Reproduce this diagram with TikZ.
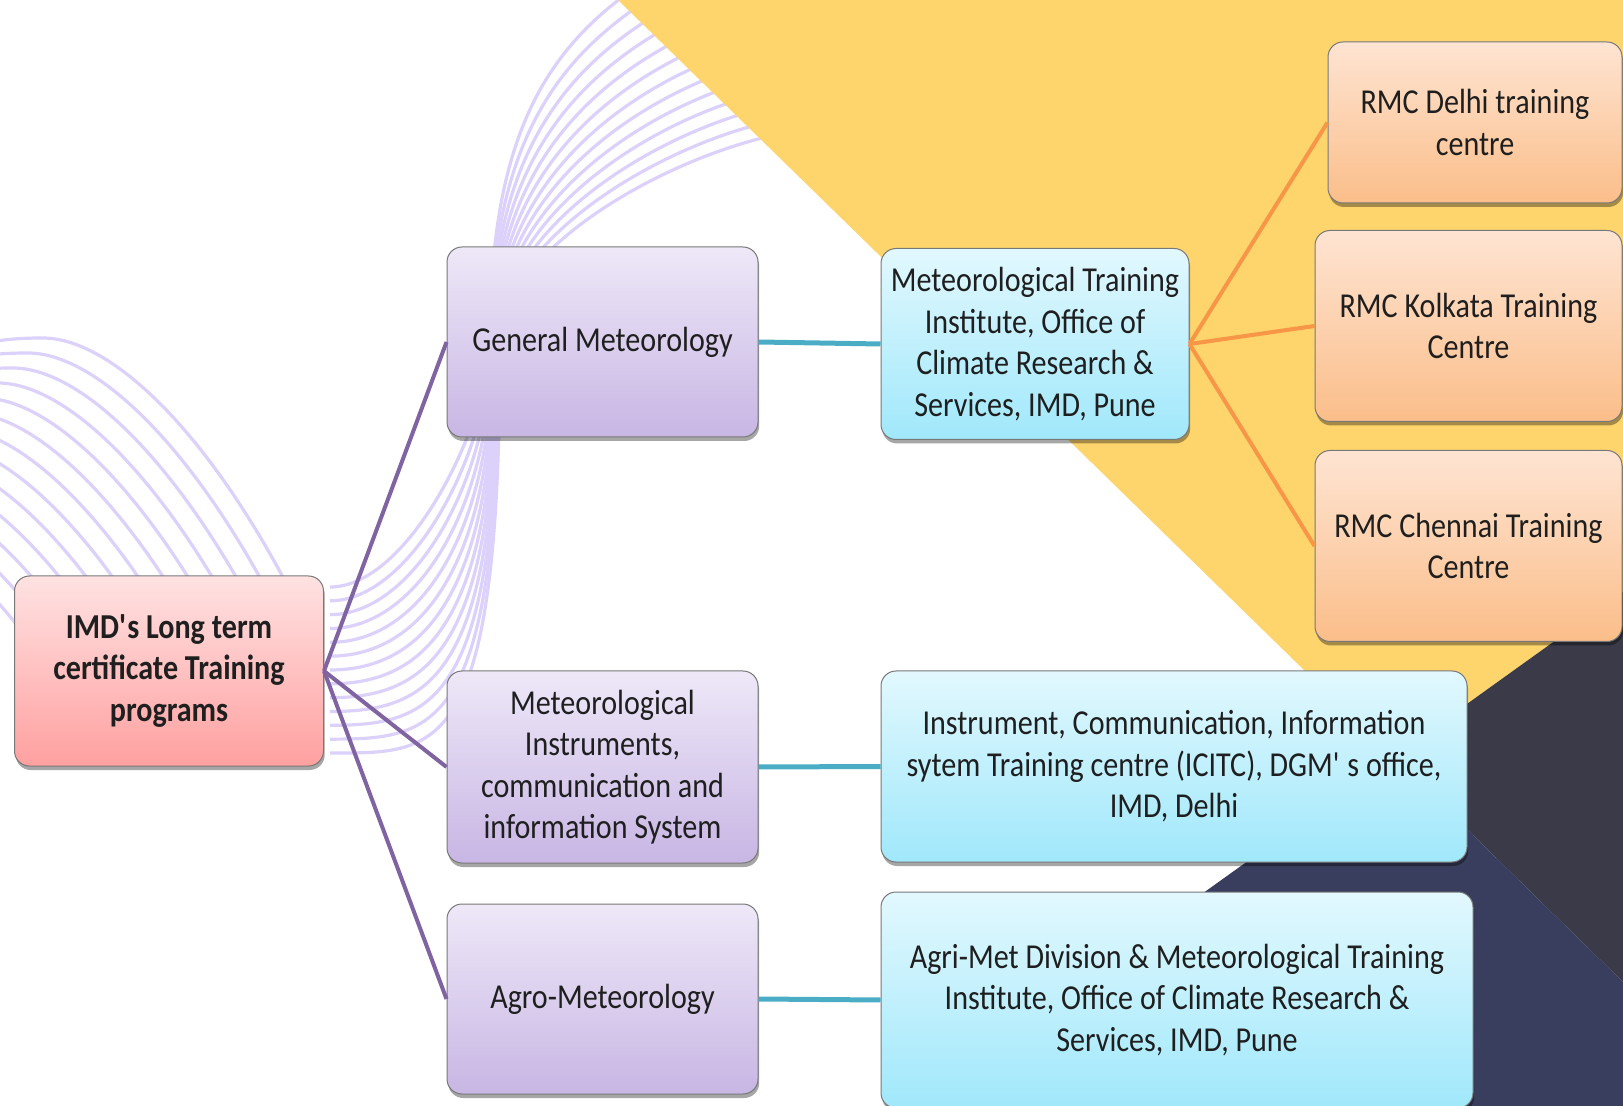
\documentclass[tikz,border=0pt]{standalone}
\usepackage{fontspec}
\setmainfont[FakeStretch=0.86]{Carlito}
\usetikzlibrary{shadows}

\definecolor{bgyellow}{RGB}{253,213,108}
\definecolor{bgcharcoal}{RGB}{58,58,72}
\definecolor{bgnavy}{RGB}{57,62,94}
\definecolor{wavelilac}{RGB}{220,209,250}
\definecolor{linkpurple}{RGB}{128,100,162}
\definecolor{linkblue}{RGB}{75,172,198}
\definecolor{linkorange}{RGB}{247,150,70}
\definecolor{boxline}{RGB}{120,120,120}
\definecolor{rootTop}{RGB}{255,226,226}
\definecolor{rootBot}{RGB}{255,160,160}
\definecolor{progTop}{RGB}{238,232,248}
\definecolor{progBot}{RGB}{200,182,228}
\definecolor{instTop}{RGB}{226,248,254}
\definecolor{instBot}{RGB}{160,232,251}
\definecolor{rmcTop}{RGB}{254,228,210}
\definecolor{rmcBot}{RGB}{251,190,138}

\tikzset{
  box/.style={draw=boxline, line width=0.5pt, rounded corners=7.5pt, align=center, inner sep=3pt,
    text=black!88, font=\fontsize{17.5}{20.7}\selectfont,
    drop shadow={shadow xshift=0.6pt, shadow yshift=-2pt, opacity=0.35, fill=black}},
  rootbox/.style={box, top color=rootTop, bottom color=rootBot, minimum width=154.5pt, minimum height=95pt,
    font=\fontsize{17.5}{20.7}\selectfont\bfseries},
  progbox/.style={box, top color=progTop, bottom color=progBot, minimum width=155.5pt, minimum height=95pt},
  instbox/.style={box, top color=instTop, bottom color=instBot, minimum height=95.5pt},
  rmcbox/.style={box, top color=rmcTop, bottom color=rmcBot, minimum width=153.5pt, minimum height=95.5pt},
  waveline/.style={draw=wavelilac, line width=1.6pt},
  purplelink/.style={draw=linkpurple, line width=2pt},
  bluelink/.style={draw=linkblue, line width=2.5pt},
  orangelink/.style={draw=linkorange, line width=2pt}
}

\begin{document}
\begin{tikzpicture}[x=0.5pt, y=-0.5pt]

	\useasboundingbox (0,0) rectangle (1623,1106);
	\clip (0,0) rectangle (1623,1106);

	% waves, upper bundle
	\foreach \i in {0,...,12}{
		\pgfmathsetmacro{\t}{\i/12}
		\pgfmathsetmacro{\sx}{625+150*\t}
		\pgfmathsetmacro{\sy}{-5+140*\t}
		\pgfmathsetmacro{\ax}{545+115*\t}
		\pgfmathsetmacro{\ay}{55+105*\t}
		\pgfmathsetmacro{\bx}{490+15*\t}
		\pgfmathsetmacro{\by}{140+110*\t}
		\pgfmathsetmacro{\mx}{490+10*\t}
		\pgfmathsetmacro{\cy}{420+340*\t}
		\pgfmathsetmacro{\dx}{410+30*\t}
		\pgfmathsetmacro{\ey}{587+166*\t}
		\draw[waveline] (\sx,\sy) .. controls (\ax,\ay) and (\bx,\by) .. (\mx,340)
			.. controls (\mx,\cy) and (\dx,\ey) .. (330,\ey);
	}

	% waves, left bundle
	\begin{scope}
		\clip (0,0) rectangle (1623,640);
		\foreach \i in {0,...,12}{
			\draw[waveline, shift={(-15*\i,15*\i)}] (-40,350) .. controls (-10,340) and (15,338) .. (43,338)
				.. controls (110,338) and (210,430) .. (300,610);
		}
	\end{scope}

	% backdrop
	\fill[bgyellow] (618,0) -- (1623,0) -- (1623,592) -- (1393,757) -- cycle;
	\fill[bgcharcoal] (1393,757) -- (1623,592) -- (1623,982) -- cycle;
	\fill[bgnavy] (1393,757) -- (1623,982) -- (1623,1106) -- (906,1106) -- cycle;

	% root
	\node[rootbox] (root) at (169,671) {IMD\textquotesingle s Long term\\certificate Training\\programs};

	% programmes
	\node[progbox] (gm) at (602.5,342) {General Meteorology};
	\node[progbox, minimum height=96pt] (mi) at (602.5,767) {Meteorological\\Instruments,\\communication and\\information System};
	\node[progbox] (agro) at (602.5,999) {Agro-Meteorology};

	% institutes
	\node[instbox, minimum width=154pt] (mti) at (1035,344) {Meteorological Training\\Institute, Office of\\Climate Research \&\\Services, IMD, Pune};
	\node[instbox, minimum width=293pt] (icitc) at (1174,766.5) {Instrument, Communication, Information\\sytem Training centre (ICITC), DGM\textquotesingle\ s office,\\IMD, Delhi};
	\node[instbox, minimum width=296pt, minimum height=108pt] (agrimet) at (1177,1000) {Agri-Met Division \& Meteorological Training\\Institute, Office of Climate Research \&\\Services, IMD, Pune};

	% regional centres
	\node[rmcbox, minimum width=147pt, minimum height=80.5pt] (delhi) at (1475,122.5) {RMC Delhi training\\centre};
	\node[rmcbox] (kolkata) at (1468.5,326) {RMC Kolkata Training\\Centre};
	\node[rmcbox] (chennai) at (1468.5,546) {RMC Chennai Training\\Centre};

	% links
	\draw[purplelink] (root.east) -- (gm.west);
	\draw[purplelink] (root.east) -- (mi.west);
	\draw[purplelink] (root.east) -- (agro.west);
	\draw[bluelink] (gm.east) -- (mti.west);
	\draw[bluelink] (mi.east) -- (icitc.west);
	\draw[bluelink] (agro.east) -- (agrimet.west);
	\draw[orangelink] (mti.east) -- (delhi.west);
	\draw[orangelink] (mti.east) -- (kolkata.west);
	\draw[orangelink] (mti.east) -- (chennai.west);

\end{tikzpicture}
\end{document}
